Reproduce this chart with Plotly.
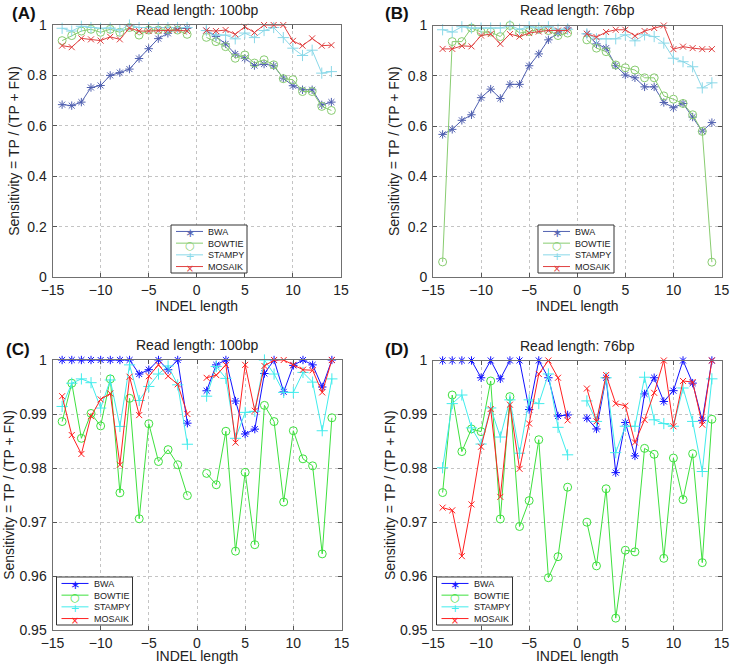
import plotly.graph_objects as go

W, H = 731, 664

x_left = [-14, -13, -12, -11, -10, -9, -8, -7, -6, -5, -4, -3, -2, -1]
x_right = [1, 2, 3, 4, 5, 6, 7, 8, 9, 10, 11, 12, 13, 14]
methods = ["BWA", "BOWTIE", "STAMPY", "MOSAIK"]

# Panel A: read length 100bp
a_bwa_l = [0.684, 0.68, 0.694, 0.752, 0.760, 0.800, 0.811, 0.825, 0.867, 0.906, 0.946, 0.967, 0.987, 0.987]
a_bwa_r = [0.978, 0.954, 0.925, 0.885, 0.868, 0.839, 0.845, 0.838, 0.789, 0.759, 0.743, 0.743, 0.683, 0.694]
a_bow_l = [0.938, 0.958, 0.976, 0.983, 0.971, 0.983, 0.971, 0.990, 0.960, 0.980, 0.980, 0.982, 0.980, 0.963]
a_bow_r = [0.951, 0.934, 0.914, 0.868, 0.881, 0.849, 0.862, 0.842, 0.787, 0.783, 0.736, 0.736, 0.677, 0.661]
a_sta_l = [0.987, 0.976, 0.995, 0.990, 0.987, 0.988, 0.980, 1.000, 0.990, 0.990, 0.990, 0.990, 0.990, 0.990]
a_sta_r = [0.978, 0.960, 0.960, 0.945, 0.968, 0.950, 0.978, 0.990, 0.950, 0.908, 0.879, 0.900, 0.809, 0.815]
a_mos_l = [0.918, 0.912, 0.947, 0.943, 0.938, 0.953, 0.943, 0.988, 0.976, 0.976, 0.978, 0.980, 0.980, 0.976]
a_mos_r = [0.978, 0.976, 0.980, 0.963, 0.993, 0.970, 1.000, 1.000, 1.000, 0.937, 0.918, 0.947, 0.918, 0.920]

# Panel B: read length 76bp
b_bwa_l = [0.567, 0.587, 0.623, 0.645, 0.713, 0.747, 0.710, 0.766, 0.766, 0.840, 0.887, 0.943, 0.970, 0.990]
b_bwa_r = [0.967, 0.927, 0.910, 0.840, 0.803, 0.792, 0.756, 0.756, 0.694, 0.673, 0.690, 0.636, 0.580, 0.614]
b_bow_l = [0.060, 0.936, 0.936, 0.990, 0.974, 0.974, 0.956, 1.000, 0.970, 0.976, 0.985, 0.980, 0.960, 0.970]
b_bow_r = [0.943, 0.910, 0.896, 0.843, 0.832, 0.823, 0.792, 0.792, 0.720, 0.707, 0.690, 0.645, 0.579, 0.059]
b_sta_l = [0.983, 0.974, 0.995, 0.990, 0.990, 0.990, 0.990, 1.000, 0.985, 0.995, 0.990, 0.995, 0.985, 0.985]
b_sta_r = [0.967, 0.947, 0.947, 0.947, 0.963, 0.939, 0.963, 0.956, 0.930, 0.870, 0.856, 0.836, 0.752, 0.772]
b_mos_l = [0.907, 0.907, 0.919, 0.917, 0.960, 0.966, 0.927, 0.966, 0.956, 0.970, 0.976, 0.980, 0.980, 0.980]
b_mos_r = [0.967, 0.954, 0.974, 0.983, 0.983, 0.959, 0.978, 0.990, 1.000, 0.906, 0.916, 0.910, 0.906, 0.906]

# Panel C: read length 100bp (zoomed)
c_bwa_l = [1.0, 1.0, 1.0, 1.0, 1.0, 1.0, 1.0, 1.0, 0.9974, 0.9982, 1.0, 0.9982, 1.0, 0.9883]
c_bwa_r = [0.9943, 0.9991, 1.0, 0.9924, 0.9863, 0.9872, 0.9975, 1.0, 0.9941, 0.9990, 1.0, 0.9991, 0.9950, 1.0]
c_bow_l = [0.9886, 0.9957, 0.9855, 0.9901, 0.9878, 0.9965, 0.9754, 0.9929, 0.9706, 0.9882, 0.9812, 0.9834, 0.9806, 0.9749]
c_bow_r = [0.9790, 0.9769, 0.9868, 0.9646, 0.9792, 0.9658, 0.9916, 0.9886, 0.9737, 0.9869, 0.9817, 0.9804, 0.9641, 0.9893]
c_sta_l = [0.9914, 0.9957, 0.9965, 0.9958, 0.9911, 0.9963, 0.9877, 0.9991, 0.9925, 0.9951, 0.9974, 0.9989, 0.9954, 0.9844]
c_sta_r = [0.9933, 0.9988, 0.9966, 0.9855, 0.9903, 0.9905, 1.0, 0.9974, 0.9940, 0.9940, 0.9977, 0.9959, 0.9869, 0.9965]
c_mos_l = [0.9933, 0.9861, 0.9826, 0.9896, 0.9927, 0.9938, 0.9806, 0.9969, 0.9898, 0.9970, 0.9991, 0.9970, 0.9955, 0.9900]
c_mos_r = [0.9967, 0.9972, 0.9991, 0.9847, 0.9991, 0.9906, 0.9989, 1.0, 1.0, 0.9991, 0.9982, 0.9981, 0.9940, 1.0]

# Panel D: read length 76bp (zoomed)
d_bwa_l = [1.0, 1.0, 1.0, 1.0, 0.9968, 1.0, 0.9966, 1.0, 1.0, 0.9909, 1.0, 0.9968, 0.9897, 0.9899]
d_bwa_r = [0.9893, 0.9873, 0.9968, 0.9792, 0.9885, 0.9823, 0.9938, 0.9968, 0.9924, 0.9944, 1.0, 0.9958, 0.9889, 1.0]
d_bow_l = [0.9755, 0.9936, 0.9831, 0.9873, 0.9868, 0.9962, 0.9706, 0.9933, 0.9692, 0.9740, 0.9853, 0.9597, 0.9636, 0.9765]
d_bow_r = [0.9700, 0.9619, 0.9762, 0.9522, 0.9648, 0.9645, 0.9837, 0.9826, 0.9633, 0.9819, 0.9742, 0.9827, 0.9625, 0.9891]
d_sta_l = [0.9801, 0.9920, 0.9936, 0.9875, 0.9845, 0.9912, 0.9858, 0.9927, 0.9828, 0.9927, 0.9920, 0.9975, 0.9876, 0.9825]
d_sta_r = [0.9925, 0.9887, 0.9968, 0.9829, 0.9878, 0.9878, 0.9969, 0.9890, 0.9883, 0.9878, 0.9949, 0.9887, 0.9794, 0.9966]
d_mos_l = [0.9727, 0.9722, 0.9637, 0.9733, 0.9840, 0.9910, 0.9747, 0.9918, 0.9799, 0.9883, 0.9975, 1.0, 0.9968, 0.9889]
d_mos_r = [0.9948, 0.9887, 0.9973, 0.9920, 0.9916, 0.9848, 0.9890, 0.9940, 1.0, 0.9878, 0.9962, 0.9960, 0.9881, 1.0]

x_ticks = [-15, -10, -5, 0, 5, 10, 15]
y_ticks_full = [0, 0.2, 0.4, 0.6, 0.8, 1]
y_ticks_full_text = ["0", "0.2", "0.4", "0.6", "0.8", "1"]
y_ticks_zoom = [0.95, 0.96, 0.97, 0.98, 0.99, 1]
y_ticks_zoom_text = ["0.95", "0.96", "0.97", "0.98", "0.99", "1"]

titles = ["Read length: 100bp", "Read length: 76bp", "Read length: 100bp", "Read length: 76bp"]
panel_labels = ["(A)", "(B)", "(C)", "(D)"]

colors_soft = ["#5060b0", "#88cc70", "#8ad8e8", "#e04040"]
colors_bright = ["#1010ff", "#3ee03e", "#40ecec", "#ff2020"]
symbols = ["asterisk-open", "circle-open", "cross-thin-open", "x-thin-open"]
legend_glyphs = ["∗", "○", "+", "×"]
legend_glyph_sizes = [12, 11, 11, 10]
sizes = [7, 8, 8, 6]

panels = [
    [(a_bwa_l, a_bwa_r), (a_bow_l, a_bow_r), (a_sta_l, a_sta_r), (a_mos_l, a_mos_r)],
    [(b_bwa_l, b_bwa_r), (b_bow_l, b_bow_r), (b_sta_l, b_sta_r), (b_mos_l, b_mos_r)],
    [(c_bwa_l, c_bwa_r), (c_bow_l, c_bow_r), (c_sta_l, c_sta_r), (c_mos_l, c_mos_r)],
    [(d_bwa_l, d_bwa_r), (d_bow_l, d_bow_r), (d_sta_l, d_sta_r), (d_mos_l, d_mos_r)],
]

# pixel boxes of the axes: (left, right, top, bottom)
boxes = [(52.5, 341, 25, 277), (433, 721.5, 25.5, 277), (52.5, 341.5, 360, 630), (433, 721.5, 360.5, 630)]
# legend box (left, top) in pixels; box is 76 x 48
legend_pos = [(171, 225), (538, 225), (56.5, 577), (436.5, 577)]
LEG_W, LEG_H = 76, 48
LEG_FONT = 9
LEG_STEP = 1.3 * LEG_FONT
# panel label (left, center y) in pixels
label_pos = [(10, 13), (383, 13), (4, 349), (383, 349)]
ytitle_standoff = [4, 4, 1, 1]

fig = go.Figure()
font_family = "Liberation Sans, Arial, Helvetica, sans-serif"

for p in range(4):
    xa = "x" if p == 0 else f"x{p+1}"
    ya = "y" if p == 0 else f"y{p+1}"
    cols = colors_soft if p < 2 else colors_bright
    for m in range(4):
        yl, yr = panels[p][m]
        xs = x_left + [0] + x_right
        ys = list(yl) + [None] + list(yr)
        fig.add_trace(go.Scatter(
            x=xs, y=ys, mode="lines+markers", name=methods[m],
            xaxis=xa, yaxis=ya, connectgaps=False, cliponaxis=False, showlegend=False,
            line=dict(color=cols[m], width=1),
            marker=dict(symbol=symbols[m], size=sizes[m], color=cols[m],
                        line=dict(color=cols[m], width=1)),
        ))


def px(v):
    return v / W


def py(v):
    return 1 - v / H


layout = dict(
    width=W, height=H, margin=dict(l=0, r=0, t=0, b=0, autoexpand=False),
    paper_bgcolor="white", plot_bgcolor="white",
    font=dict(family=font_family, size=14, color="#222222"),
    showlegend=False,
)

annotations = []
shapes = []
for p in range(4):
    l, r, t, b = boxes[p]
    sfx = "" if p == 0 else str(p + 1)
    zoom = p >= 2
    cols = colors_soft if p < 2 else colors_bright
    layout["xaxis" + sfx] = dict(
        domain=[px(l), px(r)], range=[-15, 15], anchor="y" + sfx,
        tickvals=x_ticks, ticks="inside", ticklen=4, tickcolor="#555555",
        showline=True, linecolor="#707070", linewidth=1, mirror="ticks",
        showgrid=True, gridcolor="#c4c4c4", griddash="dot", gridwidth=1,
        zeroline=False, tickfont=dict(size=14, color="#222222"),
        title=dict(text="INDEL length", font=dict(size=14, color="#222222"), standoff=0),
    )
    layout["yaxis" + sfx] = dict(
        domain=[py(b), py(t)],
        range=[0.95, 1] if zoom else [0, 1], anchor="x" + sfx,
        tickvals=y_ticks_zoom if zoom else y_ticks_full,
        ticktext=y_ticks_zoom_text if zoom else y_ticks_full_text,
        ticks="inside", ticklen=4, tickcolor="#555555", ticklabelstandoff=2,
        showline=True, linecolor="#707070", linewidth=1, mirror="ticks",
        showgrid=True, gridcolor="#c4c4c4", griddash="dot", gridwidth=1,
        zeroline=False, tickfont=dict(size=14, color="#222222"),
        title=dict(text="Sensitivity = TP / (TP + FN)", font=dict(size=14, color="#222222"),
                   standoff=ytitle_standoff[p]),
    )

    # compact legend box (MATLAB style)
    lx, ly = legend_pos[p]
    cy = ly + LEG_H / 2
    shapes.append(dict(
        type="rect", xref="paper", yref="paper", layer="above",
        x0=px(lx), x1=px(lx + LEG_W), y0=py(ly + LEG_H), y1=py(ly),
        fillcolor="white", line=dict(color="#333333", width=1),
    ))
    for m in range(4):
        ry = cy + (m - 1.5) * LEG_STEP
        shapes.append(dict(
            type="line", xref="paper", yref="paper", layer="above",
            x0=px(lx + 5), x1=px(lx + 32), y0=py(ry), y1=py(ry),
            line=dict(color=cols[m], width=1),
        ))
    glyph_text = "<br>".join(
        f"<span style='color:{cols[m]};font-size:{legend_glyph_sizes[m]}px'>{legend_glyphs[m]}</span>"
        for m in range(4)
    )
    annotations.append(dict(
        text=glyph_text, x=px(lx + 18.5), y=py(cy + 0.5),
        xref="paper", yref="paper", showarrow=False, align="center",
        xanchor="center", yanchor="middle", borderpad=0,
        font=dict(size=LEG_FONT, family="DejaVu Sans"),
    ))
    annotations.append(dict(
        text="<br>".join(methods), x=px(lx + 36), y=py(cy),
        xref="paper", yref="paper", showarrow=False, align="left",
        xanchor="left", yanchor="middle", borderpad=0,
        font=dict(size=LEG_FONT, color="#222222"),
    ))

    annotations.append(dict(
        text=titles[p], x=px((l + r) / 2), y=py(t - 15),
        xref="paper", yref="paper", showarrow=False,
        xanchor="center", yanchor="middle", font=dict(size=14, color="#222222"),
    ))
    lab_x, lab_y = label_pos[p]
    annotations.append(dict(
        text="<b>" + panel_labels[p] + "</b>", x=px(lab_x), y=py(lab_y),
        xref="paper", yref="paper", showarrow=False,
        xanchor="left", yanchor="middle", font=dict(size=17, color="#111111"),
    ))

layout["annotations"] = annotations
layout["shapes"] = shapes
fig.update_layout(**layout)
# remove the page's default 8px body margin so the figure sits at the window origin
fig.write_html("out.html", config={"displayModeBar": False},
               post_script="document.body.style.margin='0px';")
